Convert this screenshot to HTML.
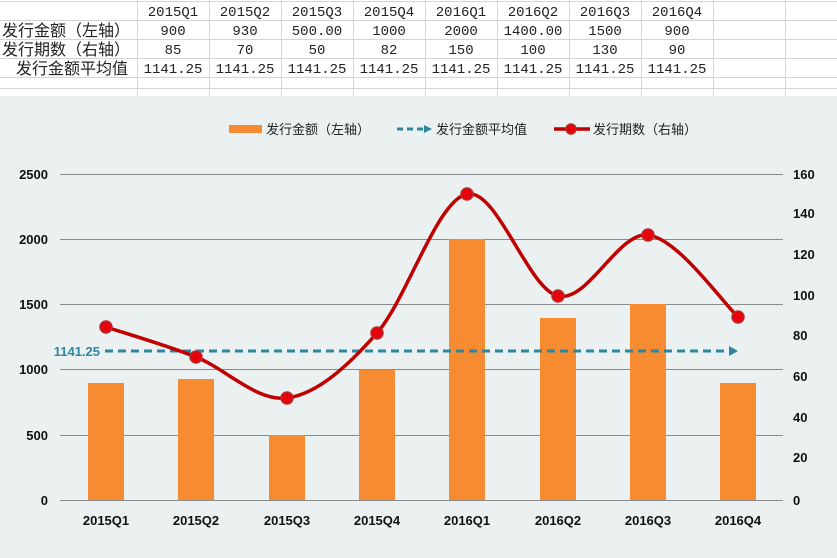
<!DOCTYPE html>
<html><head><meta charset="utf-8"><style>
body{margin:0;width:837px;height:558px;overflow:hidden;background:#fff;font-family:"Liberation Sans","Noto Sans CJK SC",sans-serif}
</style></head><body>
<svg width="837" height="558" xmlns="http://www.w3.org/2000/svg" style="position:absolute;left:0;top:0">
<rect x="0" y="0" width="837" height="96" fill="#fff"/>
<g stroke="#d4d4d4" stroke-width="1">
<line x1="0" y1="1.5" x2="837" y2="1.5"/><line x1="0" y1="20.5" x2="837" y2="20.5"/><line x1="0" y1="39.5" x2="837" y2="39.5"/><line x1="0" y1="58.5" x2="837" y2="58.5"/><line x1="0" y1="77.5" x2="837" y2="77.5"/><line x1="0" y1="88.5" x2="837" y2="88.5"/>
<line x1="137.5" y1="0" x2="137.5" y2="96"/><line x1="209.5" y1="0" x2="209.5" y2="96"/><line x1="281.5" y1="0" x2="281.5" y2="96"/><line x1="353.5" y1="0" x2="353.5" y2="96"/><line x1="425.5" y1="0" x2="425.5" y2="96"/><line x1="497.5" y1="0" x2="497.5" y2="96"/><line x1="569.5" y1="0" x2="569.5" y2="96"/><line x1="641.5" y1="0" x2="641.5" y2="96"/><line x1="713.5" y1="0" x2="713.5" y2="96"/><line x1="785.5" y1="0" x2="785.5" y2="96"/>
</g>
<g font-family="'Liberation Mono','Noto Sans CJK SC',monospace" font-size="14" fill="#222" text-anchor="middle">
<text x="173" y="16">2015Q1</text><text x="245" y="16">2015Q2</text><text x="317" y="16">2015Q3</text><text x="389" y="16">2015Q4</text><text x="461" y="16">2016Q1</text><text x="533" y="16">2016Q2</text><text x="605" y="16">2016Q3</text><text x="677" y="16">2016Q4</text>
<text x="173" y="35">900</text><text x="245" y="35">930</text><text x="317" y="35">500.00</text><text x="389" y="35">1000</text><text x="461" y="35">2000</text><text x="533" y="35">1400.00</text><text x="605" y="35">1500</text><text x="677" y="35">900</text>
<text x="173" y="54">85</text><text x="245" y="54">70</text><text x="317" y="54">50</text><text x="389" y="54">82</text><text x="461" y="54">150</text><text x="533" y="54">100</text><text x="605" y="54">130</text><text x="677" y="54">90</text>
<text x="173" y="73">1141.25</text><text x="245" y="73">1141.25</text><text x="317" y="73">1141.25</text><text x="389" y="73">1141.25</text><text x="461" y="73">1141.25</text><text x="533" y="73">1141.25</text><text x="605" y="73">1141.25</text><text x="677" y="73">1141.25</text>
</g>
<g font-size="16" fill="#222">
<text x="2" y="36">发行金额（左轴）</text><text x="2" y="55">发行期数（右轴）</text><text x="16" y="74">发行金额平均值</text>
</g>
<rect x="0" y="96" width="837" height="462" fill="#ebf1f1"/>
<g stroke="#8a8a8a" stroke-width="1">
<line x1="60" y1="174.5" x2="783" y2="174.5"/><line x1="60" y1="239.5" x2="783" y2="239.5"/><line x1="60" y1="304.5" x2="783" y2="304.5"/><line x1="60" y1="369.5" x2="783" y2="369.5"/><line x1="60" y1="435.5" x2="783" y2="435.5"/><line x1="60" y1="500.5" x2="783" y2="500.5"/>
</g>
<g font-size="13" font-weight="bold" fill="#111">
<g text-anchor="end"><text x="48" y="179">2500</text><text x="48" y="244">2000</text><text x="48" y="309">1500</text><text x="48" y="374">1000</text><text x="48" y="440">500</text><text x="48" y="505">0</text></g>
<g><text x="793" y="179">160</text><text x="793" y="218">140</text><text x="793" y="259">120</text><text x="793" y="300">100</text><text x="793" y="340">80</text><text x="793" y="381">60</text><text x="793" y="422">40</text><text x="793" y="462">20</text><text x="793" y="505">0</text></g>
<g text-anchor="middle"><text x="106" y="525">2015Q1</text><text x="196" y="525">2015Q2</text><text x="287" y="525">2015Q3</text><text x="377" y="525">2015Q4</text><text x="467" y="525">2016Q1</text><text x="558" y="525">2016Q2</text><text x="648" y="525">2016Q3</text><text x="738" y="525">2016Q4</text></g>
</g>
<g fill="#f68b31">
<rect x="88" y="383" width="36" height="117"/><rect x="178" y="379" width="36" height="121"/><rect x="269" y="435" width="36" height="65"/><rect x="359" y="370" width="36" height="130"/><rect x="449" y="239" width="36" height="261"/><rect x="540" y="318" width="36" height="182"/><rect x="630" y="304" width="36" height="196"/><rect x="720" y="383" width="36" height="117"/>
</g>
<line x1="105" y1="351" x2="730" y2="351" stroke="#2e86a0" stroke-width="3" stroke-dasharray="8,5"/>
<polygon points="729,346 738,351 729,356" fill="#2e86a0"/>
<text x="100" y="356" font-size="13" font-weight="bold" fill="#2e86a0" text-anchor="end">1141.25</text>
<path d="M106,327 C121,332 166,345 196,357 C226,369 257,402 287,398 C317,394 347,367 377,333 C407,299 437,200 467,194 C497,188 528,289 558,296 C588,303 618,231.5 648,235 C678,238.5 723,303 738,317" fill="none" stroke="#c00000" stroke-width="3.5"/>
<g fill="#e8000b" stroke="#b03030" stroke-width="1.5">
<circle cx="106" cy="327" r="6"/><circle cx="196" cy="357" r="6"/><circle cx="287" cy="398" r="6"/><circle cx="377" cy="333" r="6"/><circle cx="467" cy="194" r="6"/><circle cx="558" cy="296" r="6"/><circle cx="648" cy="235" r="6"/><circle cx="738" cy="317" r="6"/>
</g>
<rect x="229" y="125" width="33" height="8" fill="#f68b31"/>
<text x="266" y="134" font-size="13" fill="#222">发行金额（左轴）</text>
<line x1="397" y1="129" x2="424" y2="129" stroke="#2e86a0" stroke-width="3" stroke-dasharray="6,4"/>
<polygon points="424,125 432,129 424,133" fill="#2e86a0"/>
<text x="436" y="134" font-size="13" fill="#222">发行金额平均值</text>
<line x1="554" y1="129" x2="590" y2="129" stroke="#c00000" stroke-width="3.5"/>
<circle cx="571" cy="129" r="5" fill="#e8000b" stroke="#b03030" stroke-width="1.5"/>
<text x="593" y="134" font-size="13" fill="#222">发行期数（右轴）</text>
</svg>
</body></html>
